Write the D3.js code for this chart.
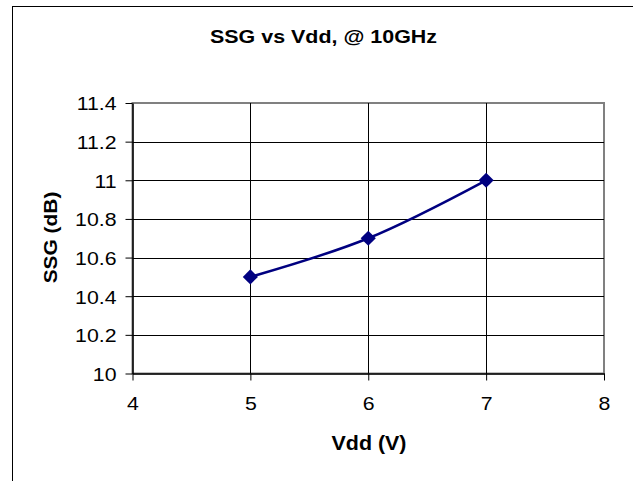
<!DOCTYPE html>
<html><head><meta charset="utf-8">
<script src="https://cdn.jsdelivr.net/npm/d3@7"></script>
<style>
html,body{margin:0;padding:0;background:#fff;}
svg{display:block;font-family:Arial,"Liberation Sans",sans-serif;}
</style></head>
<body>
<svg id="c" width="633" height="481"></svg>
<script>
const vdd = [5, 6, 7];
const ssg = [10.5, 10.7, 11.0];
const xTicks = [4, 5, 6, 7, 8];
const yTicks = [10, 10.2, 10.4, 10.6, 10.8, 11, 11.2, 11.4];
const title = "SSG vs Vdd, @ 10GHz";
const xTitle = "Vdd (V)";
const yTitle = "SSG (dB)";

const svg = d3.select("#c");
const L = 132.5, R = 604, T = 103, B = 373.5;
const x = d3.scaleLinear().domain([4, 8]).range([L, R]);
const y = d3.scaleLinear().domain([10, 11.4]).range([B, T]);

function stretch(sel, factor) {
  sel.each(function () {
    const w = this.getComputedTextLength();
    d3.select(this).attr("textLength", w * factor).attr("lengthAdjust", "spacingAndGlyphs");
  });
}

// outer chart border
svg.append("rect").attr("x", 12.5).attr("y", 6.5).attr("width", 640).attr("height", 500)
  .attr("fill", "#fff").attr("stroke", "#000").attr("stroke-width", 1);

// plot area border (grey)
svg.append("rect").attr("x", L).attr("y", T).attr("width", R - L).attr("height", B - T)
  .attr("fill", "none").attr("stroke", "#808080").attr("stroke-width", 2);

// gridlines
svg.append("g").selectAll("line").data(yTicks.filter(v => v > 10 && v < 11.4)).join("line")
  .attr("x1", L).attr("x2", R).attr("y1", d => Math.round(y(d)) + 0.5).attr("y2", d => Math.round(y(d)) + 0.5)
  .attr("stroke", "#000").attr("stroke-width", 1);
svg.append("g").selectAll("line").data(xTicks.filter(v => v > 4 && v < 8)).join("line")
  .attr("y1", T).attr("y2", B).attr("x1", d => Math.round(x(d)) + 0.5).attr("x2", d => Math.round(x(d)) + 0.5)
  .attr("stroke", "#000").attr("stroke-width", 1);

// axes
const xAxis = d3.axisBottom(x).tickValues(xTicks).tickFormat(d3.format("d")).tickSize(7).tickSizeOuter(0);
const yAxis = d3.axisLeft(y).tickValues(yTicks).tickFormat(d => String(+d.toFixed(1))).tickSize(7).tickSizeOuter(0);
const gx = svg.append("g").attr("transform", `translate(0,${B})`).call(xAxis);
const gy = svg.append("g").attr("transform", `translate(${L},0)`).call(yAxis);
[gx, gy].forEach(g => {
  g.select(".domain").attr("stroke", "#000").attr("stroke-width", 1.5);
  g.selectAll(".tick line").attr("stroke", "#000");
  g.selectAll(".tick text").attr("font-size", 18.5).attr("fill", "#000")
    .attr("font-family", "Arial, 'Liberation Sans', sans-serif").attr("dy", null);
});
gx.selectAll(".tick text").attr("y", 36.5);
gy.selectAll(".tick text").attr("x", -16).attr("y", 6.8);
stretch(gx.selectAll(".tick text"), 1.15);
stretch(gy.selectAll(".tick text"), 1.15);

// line
const line = d3.line().x((d, i) => x(vdd[i])).y(d => y(d)).curve(d3.curveCatmullRom.alpha(0.5));
svg.append("path").datum(ssg).attr("d", line).attr("fill", "none")
  .attr("stroke", "#000080").attr("stroke-width", 2.5);

// markers
svg.append("g").selectAll("path").data(ssg).join("path")
  .attr("d", d3.symbol().type(d3.symbolSquare).size(115))
  .attr("transform", (d, i) => `translate(${x(vdd[i])},${y(d)}) rotate(45)`)
  .attr("fill", "#000080");

// titles
svg.append("text").attr("x", 323.5).attr("y", 42.5).attr("text-anchor", "middle")
  .attr("font-size", 18).attr("font-weight", "bold")
  .attr("textLength", 227).attr("lengthAdjust", "spacingAndGlyphs").text(title);
svg.append("text").attr("x", 369).attr("y", 450).attr("text-anchor", "middle")
  .attr("font-size", 19.5).attr("font-weight", "bold")
  .attr("textLength", 75).attr("lengthAdjust", "spacingAndGlyphs").text(xTitle);
svg.append("text").attr("transform", "translate(56.7,237.5) rotate(-90)").attr("text-anchor", "middle")
  .attr("font-size", 18.5).attr("font-weight", "bold")
  .attr("textLength", 91.7).attr("lengthAdjust", "spacingAndGlyphs").text(yTitle);
</script>
</body></html>
